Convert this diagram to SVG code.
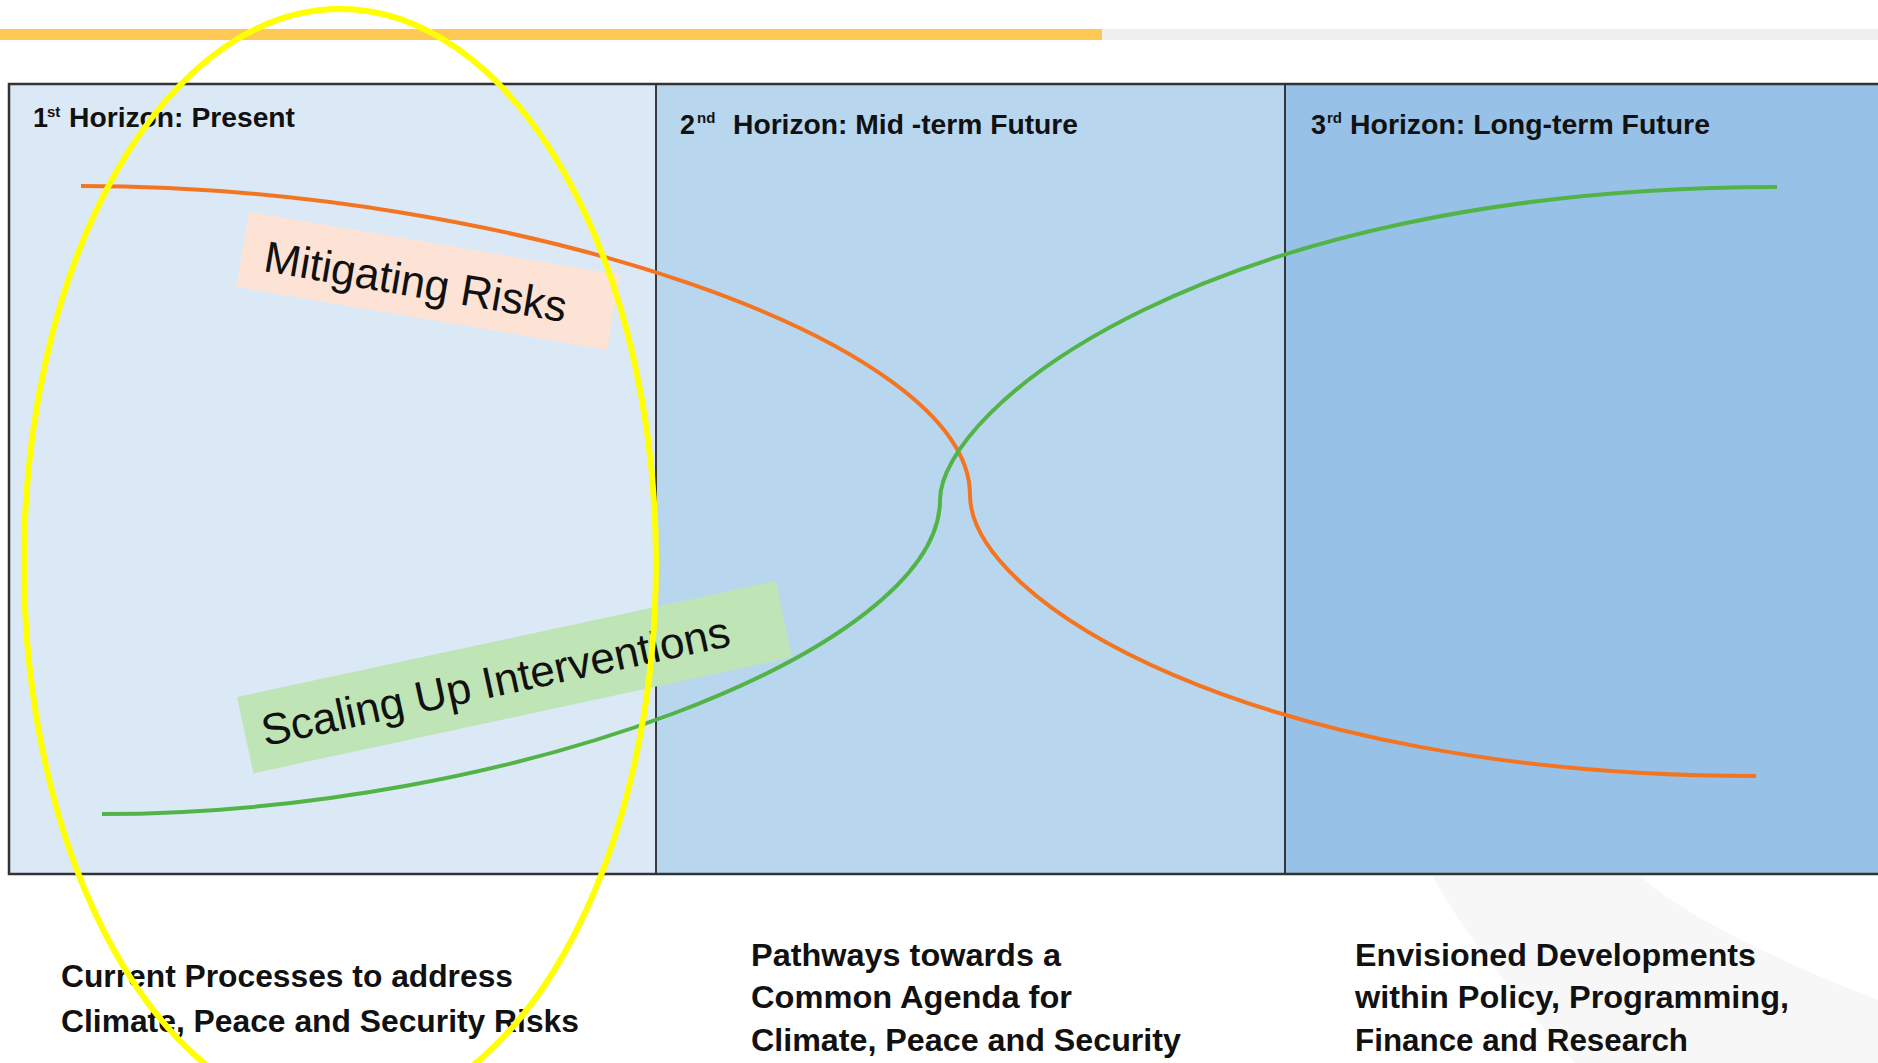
<svg xmlns="http://www.w3.org/2000/svg" width="1878" height="1063" viewBox="0 0 1878 1063">
<style>
.hd{font-family:"Liberation Sans","Noto Sans",sans-serif;font-weight:bold;font-size:27px;fill:#111}
.sup{font-family:"Liberation Sans","Noto Sans",sans-serif;font-weight:bold;font-size:15px;fill:#111}
.ft{font-family:"Liberation Sans","Noto Sans",sans-serif;font-weight:bold;font-size:31px;fill:#111}
.lbl{font-family:"Liberation Sans","Noto Sans",sans-serif;font-size:44px;fill:#111}
.curve{fill:none;stroke-width:4;stroke-linecap:butt}
.div{stroke:#111;stroke-width:1.6}
</style>
<rect width="1878" height="1063" fill="#ffffff"/>
<!-- watermark -->
<path d="M1432,876 Q1480,960 1575,1063 L1878,1063 L1878,1000 Q1700,930 1640,876 Z" fill="#f7f7f7"/>
<!-- top bar -->
<rect x="0" y="29" width="1102" height="11" fill="#ffc754"/>
<rect x="1102" y="29" width="776" height="11" fill="#efefef"/>
<g id="panels">
<rect x="9" y="84" width="647" height="790" fill="#dbe9f6"/>
<rect x="656" y="84" width="629" height="790" fill="#b9d6ef"/>
<rect x="1285" y="84" width="600" height="790" fill="#97c1e6"/>
<line class="div" x1="656" y1="84" x2="656" y2="874"/>
<line class="div" x1="1285" y1="84" x2="1285" y2="874"/>
<rect x="9" y="84" width="1880" height="790" fill="none" stroke="#333" stroke-width="2.5"/>
</g>
<g id="horizon1">
<text class="hd" x="33" y="127">1</text>
<text class="sup" x="47" y="117">st</text>
<text class="hd" x="69" y="127" textLength="226" lengthAdjust="spacingAndGlyphs">Horizon: Present</text>
</g>
<g id="horizon2">
<text class="hd" x="680" y="134">2</text>
<text class="sup" x="697" y="123">nd</text>
<text class="hd" x="733" y="134" textLength="345" lengthAdjust="spacingAndGlyphs">Horizon: Mid -term Future</text>
</g>
<g id="horizon3">
<text class="hd" x="1311" y="134">3</text>
<text class="sup" x="1327" y="123">rd</text>
<text class="hd" x="1350" y="134" textLength="360" lengthAdjust="spacingAndGlyphs">Horizon: Long-term Future</text>
</g>
<g id="label-mitigating" transform="translate(249,212) rotate(9.6)">
<rect x="0" y="0" width="376" height="76" fill="#fce3d5"/>
<text class="lbl" x="23" y="56" textLength="306" lengthAdjust="spacingAndGlyphs">Mitigating Risks</text>
</g>
<g id="label-scaling" transform="translate(237,697) rotate(-12.15)">
<rect x="0" y="0" width="551" height="78" fill="#bfe4b5"/>
<text class="lbl" x="17" y="54" textLength="478" lengthAdjust="spacingAndGlyphs">Scaling Up Interventions</text>
</g>
<g id="connectors">
<path class="curve" stroke="#f47521" d="M81,186 C510,186 970,340 970,495 C970,600 1250,776 1756,776"/>
<path class="curve" stroke="#52b447" d="M102,814 C510,814 940,650 940,500 C940,410 1205,187 1777,187"/>
</g>
<g id="caption1">
<text class="ft" x="61" y="987" textLength="452" lengthAdjust="spacingAndGlyphs">Current Processes to address</text>
<text class="ft" x="61" y="1032" textLength="518" lengthAdjust="spacingAndGlyphs">Climate, Peace and Security Risks</text>
</g>
<g id="caption2">
<text class="ft" x="751" y="966" textLength="310" lengthAdjust="spacingAndGlyphs">Pathways towards a</text>
<text class="ft" x="751" y="1008" textLength="321" lengthAdjust="spacingAndGlyphs">Common Agenda for</text>
<text class="ft" x="751" y="1051" textLength="430" lengthAdjust="spacingAndGlyphs">Climate, Peace and Security</text>
</g>
<g id="caption3">
<text class="ft" x="1355" y="966" textLength="401" lengthAdjust="spacingAndGlyphs">Envisioned Developments</text>
<text class="ft" x="1355" y="1008" textLength="434" lengthAdjust="spacingAndGlyphs">within Policy, Programming,</text>
<text class="ft" x="1355" y="1051" textLength="333" lengthAdjust="spacingAndGlyphs">Finance and Research</text>
</g>
<g id="highlight">
<ellipse cx="340" cy="563" rx="316" ry="554" fill="none" stroke="#ffff00" stroke-width="6"/>
</g>
</svg>
